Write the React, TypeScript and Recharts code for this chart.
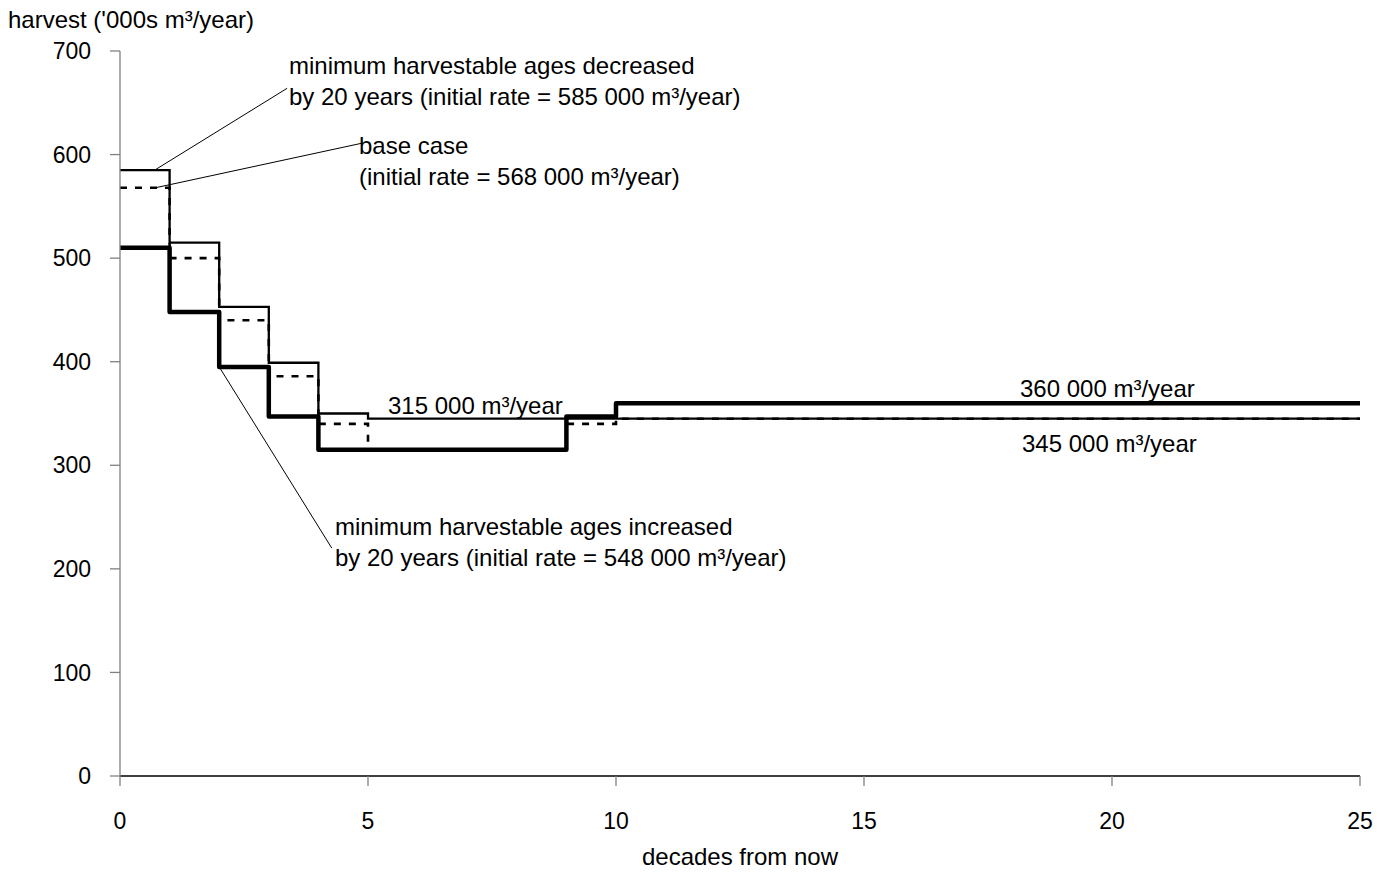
import React from 'react';
import { LineChart, Line, XAxis, YAxis, ReferenceLine, Label } from 'recharts';

const FONT = '"Liberation Sans", Arial, sans-serif';

// Harvest schedules ('000s m³/year), each value holds from its decade until the next
const decreasedDecades = [0, 1, 2, 3, 4, 5, 25];
const decreasedHarvest = [585, 515, 453, 399, 350, 345, 345];

const baseDecades = [0, 1, 2, 3, 4, 5, 9, 10, 25];
const baseHarvest = [568, 500, 440, 386, 340, 315, 340, 345, 345];

const increasedDecades = [0, 1, 2, 3, 4, 9, 10, 25];
const increasedHarvest = [510, 448, 395, 347, 315, 347, 360, 360];

// Initial rates quoted in the annotations ('000s m³/year)
const initialRates = [585, 568, 548];

const xTicks = [0, 5, 10, 15, 20, 25];
const yTicks = [0, 100, 200, 300, 400, 500, 600, 700];

const toPoints = (xs: number[], vs: number[]) => xs.map((x, i) => ({ x, v: vs[i] }));
const rate = (v: number) => `${v} 000 m³/year`;

const decreasedData = toPoints(decreasedDecades, decreasedHarvest);
const baseData = toPoints(baseDecades, baseHarvest);
const increasedData = toPoints(increasedDecades, increasedHarvest);

const textStyle: React.CSSProperties = { fontFamily: FONT, fontSize: 24, fill: '#000' };
const tickStyle = { fill: '#000', fontSize: 23, fontFamily: FONT };

export default function App() {
  return (
    <div style={{ position: 'absolute', left: 0, top: 0, width: 1391, height: 873, background: '#fff' }}>
      <LineChart width={1391} height={873} margin={{ top: 51, right: 31, bottom: 0, left: 50 }}>
        <XAxis
          type="number"
          dataKey="x"
          domain={[0, 25]}
          ticks={xTicks}
          allowDataOverflow
          height={97}
          tickSize={10}
          tickMargin={27}
          axisLine={{ stroke: '#000', strokeWidth: 1.3 }}
          tickLine={{ stroke: '#808080', strokeWidth: 1.3 }}
          tick={tickStyle}
        >
          <Label value="decades from now" position="insideBottom" offset={8} style={{ ...textStyle }} />
        </XAxis>
        <YAxis
          type="number"
          domain={[0, 700]}
          ticks={yTicks}
          allowDataOverflow
          width={70}
          tickSize={10}
          tickMargin={19}
          axisLine={{ stroke: '#808080', strokeWidth: 1.3 }}
          tickLine={{ stroke: '#808080', strokeWidth: 1.3 }}
          tick={tickStyle}
        />

        {/* leader lines from the annotations to the schedules */}
        <ReferenceLine
          segment={[{ x: 0.7, y: decreasedHarvest[0] }, { x: 3.37, y: 664 }]}
          stroke="#000"
          strokeWidth={1}
        />
        <ReferenceLine
          segment={[{ x: 0.72, y: baseHarvest[0] }, { x: 4.88, y: 611 }]}
          stroke="#000"
          strokeWidth={1}
        />
        <ReferenceLine
          segment={[{ x: increasedDecades[2], y: increasedHarvest[2] }, { x: 4.27, y: 220 }]}
          stroke="#000"
          strokeWidth={1}
        />

        <Line
          data={baseData}
          dataKey="v"
          type="stepAfter"
          stroke="#000"
          strokeWidth={2.6}
          strokeDasharray="7 8"
          dot={false}
          activeDot={false}
          isAnimationActive={false}
        />
        <Line
          data={decreasedData}
          dataKey="v"
          type="stepAfter"
          stroke="#000"
          strokeWidth={2.3}
          dot={false}
          activeDot={false}
          isAnimationActive={false}
        />
        <Line
          data={increasedData}
          dataKey="v"
          type="stepAfter"
          stroke="#000"
          strokeWidth={4.5}
          strokeLinejoin="round"
          strokeLinecap="round"
          dot={false}
          activeDot={false}
          isAnimationActive={false}
        />
      </LineChart>

      <svg
        width={1391}
        height={873}
        style={{ position: 'absolute', left: 0, top: 0, pointerEvents: 'none' }}
      >
        <text x={8} y={20} dy="0.35em" style={textStyle}>harvest ('000s m³/year)</text>

        <text x={289} y={66} dy="0.35em" style={textStyle}>minimum harvestable ages decreased</text>
        <text x={289} y={97} dy="0.35em" style={textStyle}>
          by 20 years (initial rate = {rate(initialRates[0])})
        </text>

        <text x={359} y={146} dy="0.35em" style={textStyle}>base case</text>
        <text x={359} y={177} dy="0.35em" style={textStyle}>(initial rate = {rate(initialRates[1])})</text>

        <text x={335} y={527} dy="0.35em" style={textStyle}>minimum harvestable ages increased</text>
        <text x={335} y={558} dy="0.35em" style={textStyle}>
          by 20 years (initial rate = {rate(initialRates[2])})
        </text>

        <text x={388} y={406} dy="0.35em" style={textStyle}>{rate(increasedHarvest[4])}</text>
        <text x={1020} y={389} dy="0.35em" style={textStyle}>{rate(increasedHarvest[7])}</text>
        <text x={1022} y={444} dy="0.35em" style={textStyle}>{rate(decreasedHarvest[6])}</text>
      </svg>
    </div>
  );
}
